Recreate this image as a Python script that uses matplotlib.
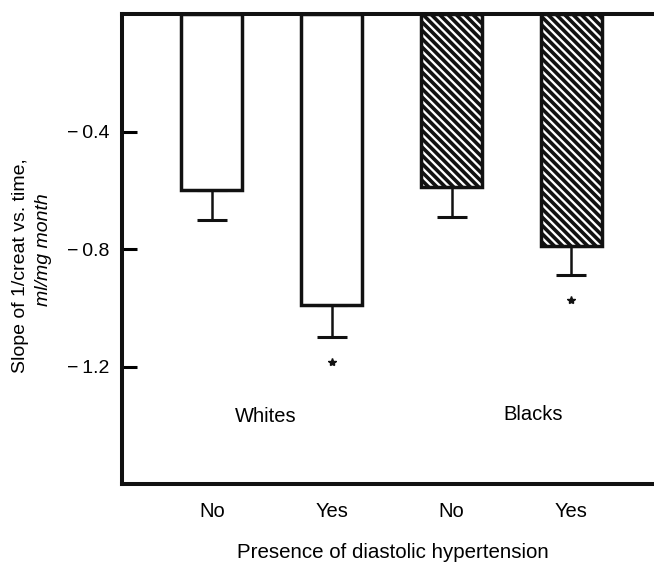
import matplotlib
matplotlib.use("Agg")
import matplotlib.pyplot as plt

# data
groups = ["No", "Yes", "No", "Yes"]
race = ["Whites", "Whites", "Blacks", "Blacks"]
slopes = [-0.60, -0.99, -0.59, -0.79]
sem = [0.10, 0.11, 0.10, 0.10]
significant = [False, True, False, True]
y_ticks = [-0.4, -0.8, -1.2]
y_tick_labels = ["\u2212\u20090.4", "\u2212\u20090.8", "\u2212\u20091.2"]

plt.rcParams["font.family"] = ["Liberation Sans", "DejaVu Sans"]
plt.rcParams["hatch.linewidth"] = 2.6
plt.rcParams["hatch.color"] = "#111111"

fig = plt.figure(figsize=(6.54, 5.66), dpi=100)
ax = fig.add_axes([122 / 654, 1 - 484 / 566, 1 - 122 / 654, 470 / 566])

x = list(range(len(slopes)))
hatches = ["" if r == "Whites" else "\\\\\\\\" for r in race]
for xi, v, h in zip(x, slopes, hatches):
    ax.bar(xi, v, width=0.51, color="white", edgecolor="#111111",
           linewidth=2.5, hatch=h, zorder=2)

ax.errorbar(x, slopes, yerr=[sem, [0] * len(sem)], fmt="none",
            ecolor="#111111", elinewidth=1.8, capsize=11, capthick=2.2, zorder=1)

for xi, v, e, s in zip(x, slopes, sem, significant):
    if s:
        ax.plot(xi, v - e - 0.085, marker="*", ms=6, color="#111111", zorder=3)

ax.text(0.45, -1.371, "Whites", ha="center", va="center", fontsize=14.5)
ax.text(2.68, -1.365, "Blacks", ha="center", va="center", fontsize=14.5)

ax.set_xlim(-0.75, 3.69)
ax.set_ylim(-1.6, 0)
ax.set_xticks(x)
ax.set_xticklabels(groups, fontsize=14.5)
ax.set_yticks(y_ticks)
ax.set_yticklabels(y_tick_labels, fontsize=14)
ax.tick_params(axis="x", length=0, pad=13)
ax.tick_params(axis="y", direction="in", length=11, width=2.2, pad=9)

for side in ["left", "bottom", "top"]:
    ax.spines[side].set_linewidth(2.9)
    ax.spines[side].set_color("#111111")
ax.spines["right"].set_visible(False)

fig.text(393 / 654, 1 - 553 / 566, "Presence of diastolic hypertension",
         ha="center", va="center", fontsize=14.8)
fig.text(21 / 654, 1 - 266 / 566, "Slope of 1/creat vs. time,",
         rotation=90, ha="center", va="center", fontsize=14)
fig.text(43 / 654, 1 - 250 / 566, "ml/mg month", style="italic",
         rotation=90, ha="center", va="center", fontsize=14)

fig.savefig("out.png", dpi=100)
